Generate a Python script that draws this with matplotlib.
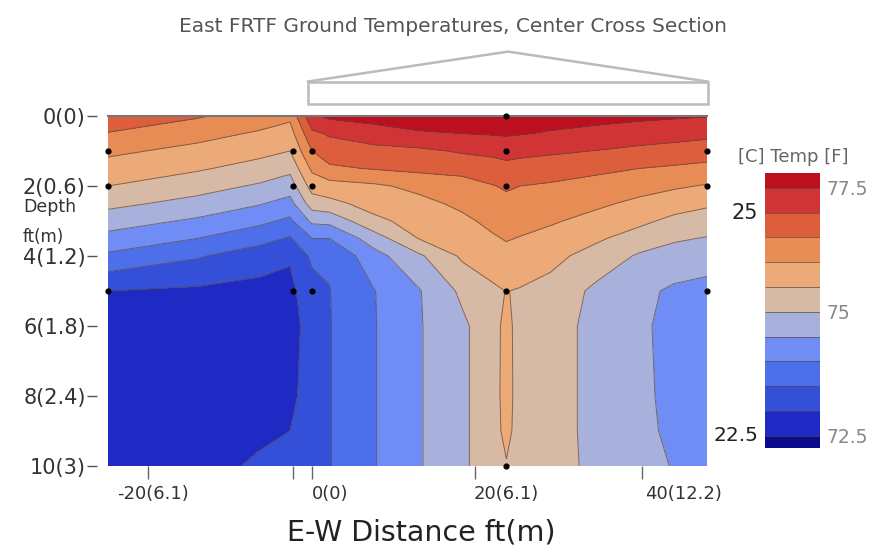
# sezione trasversale delle temperature del terreno (East FRTF)
# contourf a bande di 0.5 F con scala colori doppia C/F
import matplotlib.pyplot as plt
import numpy as np
from matplotlib.patches import Rectangle, Polygon

# posizioni orizzontali della griglia (ft) e profondità (ft)
distanze = [-25.1, -15, -8, -4.5, -2, 0, 5, 10, 15, 18.5, 20, 21.5, 25, 30, 35, 39, 42.7]
profondita = [0, 0.5, 1, 1.5, 2, 2.5, 3, 3.5, 4, 5, 6, 8, 9, 10]

# temperature (F): una riga per ogni profondità
temperature = [
    [76.90, 76.55, 76.29, 76.11, 77.40, 77.60, 77.70, 77.75, 77.78, 77.78, 77.79, 77.78, 77.70, 77.65, 77.60, 77.56, 77.52],
    [76.47, 76.18, 75.94, 75.79, 76.90, 77.06, 77.27, 77.45, 77.50, 77.54, 77.56, 77.53, 77.46, 77.37, 77.27, 77.20, 77.13],
    [76.11, 75.85, 75.65, 75.50, 76.50, 76.75, 76.85, 76.90, 77.05, 77.12, 77.18, 77.14, 77.08, 76.99, 76.88, 76.81, 76.74],
    [75.79, 75.56, 75.31, 75.13, 76.10, 76.42, 76.53, 76.62, 76.70, 76.78, 76.85, 76.80, 76.73, 76.61, 76.50, 76.43, 76.36],
    [75.50, 75.20, 74.94, 74.74, 75.70, 75.80, 75.92, 76.12, 76.25, 76.48, 76.56, 76.50, 76.44, 76.33, 76.19, 76.07, 75.96],
    [75.13, 74.84, 74.54, 74.33, 75.25, 75.36, 75.69, 75.86, 76.10, 76.30, 76.37, 76.33, 76.25, 76.10, 75.89, 75.71, 75.58],
    [74.74, 74.42, 74.12, 73.90, 74.60, 74.64, 75.38, 75.68, 75.90, 76.12, 76.20, 76.15, 76.06, 75.84, 75.61, 75.38, 75.26],
    [74.33, 74.00, 73.68, 73.45, 74.00, 74.00, 74.75, 75.50, 75.72, 75.95, 76.03, 75.98, 75.83, 75.58, 75.29, 75.06, 74.97],
    [73.91, 73.55, 73.23, 73.05, 73.60, 73.55, 74.31, 74.90, 75.58, 75.76, 75.86, 75.78, 75.63, 75.33, 74.94, 74.80, 74.71],
    [73.00, 72.92, 72.85, 72.88, 73.30, 73.49, 73.98, 74.45, 75.10, 75.42, 75.51, 75.47, 75.35, 74.90, 74.62, 74.42, 74.35],
    [72.80, 72.78, 72.75, 72.82, 73.20, 73.48, 73.97, 74.45, 74.90, 75.33, 75.64, 75.33, 75.20, 74.87, 74.60, 74.33, 74.25],
    [72.75, 72.75, 72.80, 72.92, 73.15, 73.48, 73.97, 74.45, 74.90, 75.33, 75.66, 75.33, 75.20, 74.87, 74.60, 74.38, 74.22],
    [72.72, 72.80, 72.92, 73.00, 73.13, 73.48, 73.97, 74.45, 74.90, 75.33, 75.62, 75.33, 75.20, 74.87, 74.60, 74.42, 74.23],
    [72.70, 72.85, 73.06, 73.08, 73.12, 73.48, 73.97, 74.45, 74.90, 75.33, 75.47, 75.33, 75.22, 74.88, 74.62, 74.48, 74.25],
]

# posizione dei sensori (punti neri)
sensori_x = [-25.1, -25.1, -25.1, -4.2, -4.2, -4.2, -2, -2, -2, 20, 20, 20, 20, 20, 42.7, 42.7, 42.7]
sensori_d = [1, 2, 5, 1, 2, 5, 1, 2, 5, 0, 1, 2, 5, 10, 1, 2, 5]

# livelli e colori delle bande (dal freddo al caldo)
livelli = [72.25, 72.5, 73, 73.5, 74, 74.5, 75, 75.5, 76, 76.5, 77, 77.5, 77.8]
colori = ["#0a0a8c", "#1e2ac3", "#3450d8", "#4d70ea", "#6f8df4", "#a8b1dc",
          "#d6baa6", "#ecaa78", "#e88c55", "#dd5e3c", "#d13434", "#bc0f1f"]

# etichette degli assi
tick_x = [-20, 0, 20, 40]
etichette_x = ["-20(6.1)", "0(0)", "20(6.1)", "40(12.2)"]
tick_x_minori = [-20.6, -4.2, -2, 16.5, 35.3]
tick_y = [0, 2, 4, 6, 8, 10]
etichette_y = ["0(0)", "2(0.6)", "4(1.2)", "6(1.8)", "8(2.4)", "10(3)"]

fig = plt.figure(figsize=(8.82, 5.55), dpi=100)
ax = fig.add_axes([0.1224, 0.1604, 0.6791, 0.6306])

X, Y = np.meshgrid(distanze, profondita)
Z = np.array(temperature)

# bande piene e linee di contorno sottili
cf = ax.contourf(X, Y, Z, levels=livelli, colors=colori)
cl = ax.contour(X, Y, Z, levels=livelli[1:-1], colors="#5a463c", linewidths=0.7, alpha=0.7)

ax.scatter(sensori_x, sensori_d, s=12, color="black", zorder=5, clip_on=False)

ax.set_xlim(-25.1, 42.7)
ax.set_ylim(10, 0)

# assi: solo la linea del terreno in alto
for lato in ["left", "right", "bottom"]:
    ax.spines[lato].set_visible(False)
ax.spines["top"].set_color("#777777")
ax.spines["top"].set_linewidth(1.5)
ax.spines["left"].set_position(("outward", 8))

ax.set_xticks(tick_x)
ax.set_xticklabels(etichette_x, fontsize=13, color="#333333")
ax.set_xticks(tick_x_minori, minor=True)
ax.tick_params(axis="x", which="major", length=0, pad=14)
ax.tick_params(axis="x", which="minor", length=9, color="#666666", width=1)
ax.set_yticks(tick_y)
ax.set_yticklabels(etichette_y, fontsize=15, color="#333333")
ax.tick_params(axis="y", length=7, color="#555555", width=1, pad=1)

fig.text(421 / 882, 1 - 532 / 555, "E-W Distance ft(m)", fontsize=20.5, color="#222222",
         ha="center", va="center")
fig.text(0.026, 1 - 207 / 555, "Depth", fontsize=12.5, color="#333333", va="center")
fig.text(0.026, 1 - 237 / 555, "ft(m)", fontsize=12, color="#333333", va="center")

# sagoma dell'edificio sopra il terreno
ax.add_patch(Rectangle((-2.5, -0.98), 45.3, 0.64, facecolor="white", edgecolor="#bbbbbb",
                       linewidth=1.8, clip_on=False))
ax.add_patch(Polygon([(-2.6, -0.98), (20.2, -1.84), (42.9, -0.98)], closed=False, fill=False,
                     edgecolor="#bbbbbb", linewidth=1.8, clip_on=False))

fig.text(0.514, 1 - 27 / 555, "East FRTF Ground Temperatures, Center Cross Section",
         fontsize=14.5, color="#555555", ha="center", va="center")

# barra dei colori con scala F a destra e C a sinistra
cax = fig.add_axes([0.8673, 0.1928, 0.0624, 0.4955])
cbar = fig.colorbar(cf, cax=cax, spacing="proportional", ticks=[72.5, 75, 77.5])
cbar.add_lines(cl)
cbar.outline.set_visible(False)
cbar.ax.set_yticklabels(["72.5", "75", "77.5"], fontsize=13.5, color="#888888")
cbar.ax.tick_params(length=0, pad=5)
cax.text(-0.12, 77.0, "25", transform=cax.get_yaxis_transform(), fontsize=15,
         color="#222222", ha="right", va="center")
cax.text(-0.12, 72.5, "22.5", transform=cax.get_yaxis_transform(), fontsize=14.5,
         color="#222222", ha="right", va="center")
fig.text(0.899, 1 - 157 / 555, "[C] Temp [F]", fontsize=13, color="#666666", ha="center", va="center")

fig.savefig("out.png", dpi=100)
